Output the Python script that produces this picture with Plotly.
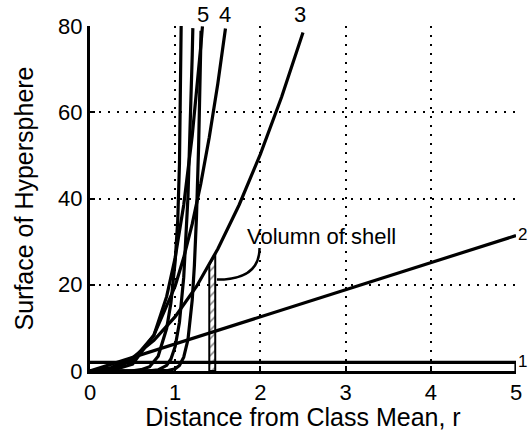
import plotly.graph_objects as go

# Distance from class mean r and hypersphere surface S for each dimension n
r1 = [0, 5, 5]
s1 = [2, 2, 0]

r2 = [0, 5]
s2 = [0, 31.4]

r3 = [0, 0.25, 0.5, 0.75, 1.0, 1.25, 1.5, 1.75, 2.0, 2.25, 2.5]
s3 = [0, 0.8, 3.1, 7.1, 12.6, 19.6, 28.3, 38.5, 50.3, 63.6, 78.5]

r4 = [0, 0.25, 0.5, 0.75, 1.0, 1.1, 1.2, 1.3, 1.4, 1.5, 1.59]
s4 = [0, 0.3, 2.5, 8.3, 19.7, 26.3, 34.1, 43.4, 54.2, 66.6, 79.4]

r5 = [0, 0.25, 0.5, 0.75, 0.9, 1.0, 1.1, 1.2, 1.3, 1.32]
s5 = [0, 0.1, 1.6, 8.3, 17.3, 26.3, 38.5, 54.6, 75.2, 79.9]

r10 = [0, 0.5, 0.6, 0.7, 0.8, 0.9, 0.95, 1.0, 1.03, 1.05, 1.07]
s10 = [0, 0.05, 0.3, 1.0, 3.4, 9.9, 15.8, 25.5, 35.0, 48.0, 80.0]

r15 = [0, 0.7, 0.8, 0.9, 0.95, 1.0, 1.05, 1.1, 1.15, 1.175, 1.2, 1.207]
s15 = [0, 0.04, 0.25, 1.3, 2.8, 5.7, 11.3, 21.7, 40.4, 54.6, 73.3, 79.5]

r20 = [0, 0.9, 1.0, 1.05, 1.1, 1.15, 1.2, 1.225, 1.25, 1.275, 1.3, 1.303]
s20 = [0, 0.07, 0.5, 1.3, 3.2, 7.3, 16.5, 24.4, 35.8, 52.2, 75.4, 78.9]

# Shell between r=1.40 and r=1.47 under the n=3 curve
shell_r = [1.40, 1.40, 1.47, 1.47, 1.40]
shell_s = [0, 24.6, 27.2, 0, 0]

# Curve labels: text, anchor point (r, S), pixel offsets, anchor, size
curve_labels = ["5", "4", "3", "2", "1"]
label_r = [1.33, 1.59, 2.47, 5.0, 5.0]
label_s = [80, 80, 80, 31.6, 2.1]
label_dx = [0, 0, 0, 1, 1]
label_dy = [12, 12, 12, 0, 0]
label_anchor = ["center", "center", "center", "left", "left"]
label_size = [22, 22, 22, 17, 17]

fig = go.Figure()

line = dict(color="black", width=3.2)
fig.add_trace(go.Scatter(x=shell_r, y=shell_s, mode="lines", fill="toself",
                         fillcolor="rgba(0,0,0,0)",
                         fillpattern=dict(shape="/", fgcolor="black", bgcolor="white",
                                          size=6, solidity=0.25),
                         line=dict(color="black", width=2)))
for rx, sy in [(r1, s1), (r2, s2), (r3, s3), (r4, s4), (r5, s5),
               (r10, s10), (r15, s15), (r20, s20)]:
    fig.add_trace(go.Scatter(x=rx, y=sy, mode="lines", line=line))

fam = "Liberation Sans, Arial, sans-serif"
font = dict(family=fam, size=22, color="black")
title_font = dict(family=fam, size=25, color="black")

for t, x, y, dx, dy, an, sz in zip(curve_labels, label_r, label_s, label_dx,
                                   label_dy, label_anchor, label_size):
    fig.add_annotation(x=x, y=y, text=t, showarrow=False, borderpad=0,
                       font=dict(family=fam, size=sz, color="black"),
                       xanchor=an, yanchor="middle", xshift=dx, yshift=dy)

fig.add_annotation(x=1.825, y=31.2, text="Volumn of shell", showarrow=False,
                   font=font, xanchor="left", yanchor="middle")
fig.add_shape(type="path", path="M 1.99,28.5 Q 1.99,21.2 1.49,21.2",
              line=dict(color="black", width=2.5), xref="x", yref="y")

fig.update_layout(
    width=530, height=431,
    margin=dict(l=90, r=14, t=26, b=60),
    paper_bgcolor="white", plot_bgcolor="white",
    showlegend=False,
    font=font,
)
fig.update_xaxes(range=[0, 5], tickvals=[0, 1, 2, 3, 4, 5], automargin=False,
                 showline=True, linecolor="black", linewidth=3,
                 ticks="inside", ticklen=5, tickwidth=2, tickcolor="black",
                 showgrid=True, gridcolor="black", gridwidth=2, griddash="2px,7px",
                 zeroline=False, tickfont=font,
                 title=dict(text="Distance from Class Mean, r", font=title_font, standoff=0))
fig.update_yaxes(range=[0, 80], tickvals=[0, 20, 40, 60, 80], automargin=False,
                 showline=True, linecolor="black", linewidth=3,
                 ticks="inside", ticklen=5, tickwidth=2, tickcolor="black",
                 showgrid=True, gridcolor="black", gridwidth=2, griddash="2px,7px",
                 zeroline=False, tickfont=font,
                 title=dict(text="Surface of Hypersphere", font=title_font, standoff=18))

fig.write_html("out.html")
